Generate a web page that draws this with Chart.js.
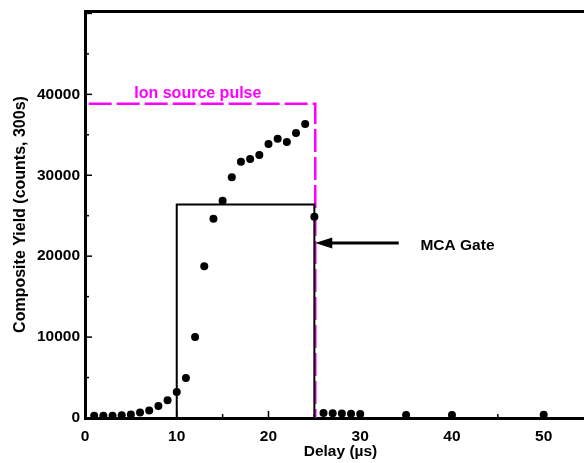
<!DOCTYPE html>
<html lang="en">
<head>
<meta charset="UTF-8">
<title>Composite Yield vs Delay</title>
<script src="https://cdn.jsdelivr.net/npm/chart.js"></script>
<style>
    html, body {
        margin: 0;
        padding: 0;
        background: #fff;
        overflow: hidden;
    }

    /* plot runs past the right edge of the window, as in the original figure */
    #wrap {
        width: 600px;
        height: 463px;
    }
</style>
</head>
<body>
<div id="wrap"><canvas id="yieldChart"></canvas></div>
<script>
    // delay (µs) and composite yield (counts in 300 s)
    const delays = [1, 2, 3, 4, 5, 6, 7, 8, 9, 10, 11, 12, 13, 14, 15, 16, 17, 18, 19, 20,
        21, 22, 23, 24, 25, 26, 27, 28, 29, 30, 35, 40, 50];
    const yields = [280, 280, 290, 350, 420, 690, 940, 1480, 2180, 3210, 4940, 10000, 18740, 24640, 26860, 29740, 31680, 32010, 32510, 33870,
        34520, 34120, 35230, 36340, 24880, 620, 600, 550, 520, 500, 370, 370, 400];

    // MCA gate window (rectangle)
    const gateX = [10, 10, 25, 25];
    const gateY = [0, 26400, 26400, 0];

    // ion source pulse (dashed)
    const pulseX = [0.4, 25.1, 25.1];
    const pulseY = [38850, 38850, 0];

    // axis ranges / ticks
    const xMin = 0, xMax = 55.7;
    const yMin = 0, yMax = 50300;
    const xTicks = [0, 10, 20, 30, 40, 50];
    const xMinorTicks = [5, 15, 25, 35, 45, 55];
    const yTicks = [0, 10000, 20000, 30000, 40000, 50000];
    const yMinorTicks = [5000, 15000, 25000, 35000, 45000];
    const yLabelMax = 40000; // top tick is left unlabelled

    // text annotations (data coords)
    const pulseLabel = { text: 'Ion source pulse', x: 12.3, y: 40050 };
    const gateLabel = { text: 'MCA Gate', x: 40.6, y: 21330 };
    const gateArrow = { fromX: 34.2, toX: 25.1, y: 21630 };

    const FONT = "'Liberation Sans', Arial, sans-serif";

    const toPoints = (xs, ys) => xs.map((x, i) => ({ x: x, y: ys[i] }));

    // inward tick marks + labels/arrow
    const extrasPlugin = {
        id: 'extras',
        afterDraw(chart) {
            const ctx = chart.ctx;
            const xs = chart.scales.x;
            const ys = chart.scales.y;
            const area = chart.chartArea;

            const yMark = (v, len) => {
                const py = ys.getPixelForValue(v);
                ctx.beginPath();
                ctx.moveTo(area.left + 1, py);
                ctx.lineTo(area.left + 1 + len, py);
                ctx.stroke();
            };
            const xMark = (v, len) => {
                const px = xs.getPixelForValue(v);
                ctx.beginPath();
                ctx.moveTo(px, area.bottom - 1);
                ctx.lineTo(px, area.bottom - 1 - len);
                ctx.stroke();
            };

            ctx.save();
            ctx.strokeStyle = '#000';
            ctx.lineWidth = 1.5;
            yTicks.forEach(v => yMark(v, 6));
            yMinorTicks.forEach(v => yMark(v, 3));
            xTicks.forEach(v => xMark(v, 6));
            xMinorTicks.forEach(v => xMark(v, 3));

            // labels
            ctx.textAlign = 'center';
            ctx.textBaseline = 'middle';
            ctx.font = 'bold 16px ' + FONT;
            ctx.fillStyle = '#ff00ff';
            ctx.fillText(pulseLabel.text, xs.getPixelForValue(pulseLabel.x), ys.getPixelForValue(pulseLabel.y));
            ctx.font = 'bold 15.5px ' + FONT;
            ctx.fillStyle = '#000';
            ctx.fillText(gateLabel.text, xs.getPixelForValue(gateLabel.x), ys.getPixelForValue(gateLabel.y));

            // arrow
            const ax1 = xs.getPixelForValue(gateArrow.fromX);
            const ax2 = xs.getPixelForValue(gateArrow.toX);
            const ay = ys.getPixelForValue(gateArrow.y);
            ctx.lineWidth = 3;
            ctx.beginPath();
            ctx.moveTo(ax1, ay);
            ctx.lineTo(ax2 + 14, ay);
            ctx.stroke();
            ctx.beginPath();
            ctx.moveTo(ax2, ay);
            ctx.lineTo(ax2 + 17, ay - 5.5);
            ctx.lineTo(ax2 + 17, ay + 5.5);
            ctx.closePath();
            ctx.fill();
            ctx.restore();
        }
    };

    const tickFont = { family: FONT, size: 15.5, weight: 'bold' };

    const ctx = document.getElementById('yieldChart').getContext('2d');
    const yieldChart = new Chart(ctx, {
        type: 'scatter',
        data: {
            datasets: [{
                label: 'Yield',
                data: toPoints(delays, yields),
                pointRadius: 4,
                pointBackgroundColor: '#000',
                pointBorderColor: '#000',
                pointBorderWidth: 0,
                showLine: false,
                clip: false
            }, {
                label: 'MCA Gate',
                data: toPoints(gateX, gateY),
                showLine: true,
                borderColor: '#000',
                borderWidth: 2,
                pointRadius: 0,
                tension: 0,
                fill: false
            }, {
                label: 'Ion source pulse',
                data: toPoints(pulseX, pulseY),
                showLine: true,
                borderColor: '#ff00ff',
                borderWidth: 2.5,
                borderDash: [23, 5],
                pointRadius: 0,
                tension: 0,
                fill: false
            }]
        },
        options: {
            responsive: true,
            maintainAspectRatio: false,
            animation: false,
            layout: { padding: 0 },
            plugins: {
                legend: { display: false },
                tooltip: { enabled: false }
            },
            scales: {
                x: {
                    type: 'linear',
                    position: 'bottom',
                    min: xMin,
                    max: xMax,
                    afterBuildTicks(s) { s.ticks = xTicks.map(v => ({ value: v })); },
                    ticks: {
                        maxRotation: 0,
                        color: '#000',
                        font: tickFont,
                        padding: 9,
                        callback: v => String(v)
                    },
                    grid: { drawOnChartArea: false, drawTicks: false },
                    border: { color: '#000', width: 3 },
                    title: {
                        display: true,
                        text: 'Delay (µs)',
                        color: '#000',
                        font: { family: FONT, size: 15.5, weight: 'bold' },
                        padding: { top: 0, bottom: 2 }
                    },
                    afterFit(s) { s.height = 45; }
                },
                xTop: {
                    type: 'linear',
                    position: 'top',
                    min: xMin,
                    max: xMax,
                    ticks: { display: false },
                    grid: { drawOnChartArea: false, drawTicks: false },
                    border: { color: '#000', width: 3 },
                    afterFit(s) { s.height = 11; }
                },
                y: {
                    min: yMin,
                    max: yMax,
                    afterBuildTicks(s) { s.ticks = yTicks.map(v => ({ value: v })); },
                    ticks: {
                        color: '#000',
                        font: tickFont,
                        padding: 5,
                        callback: v => (v > yLabelMax ? '' : String(v))
                    },
                    grid: { drawOnChartArea: false, drawTicks: false },
                    border: { color: '#000', width: 3 },
                    title: {
                        display: true,
                        text: 'Composite Yield (counts, 300s)',
                        color: '#000',
                        font: { family: FONT, size: 16, weight: 'bold' },
                        padding: { top: 11, bottom: 0 }
                    },
                    afterFit(s) {
                        s.width = 85;
                        s.paddingTop = 0;
                        s.paddingBottom = 0;
                    }
                }
            }
        },
        plugins: [extrasPlugin]
    });
</script>
</body>
</html>
